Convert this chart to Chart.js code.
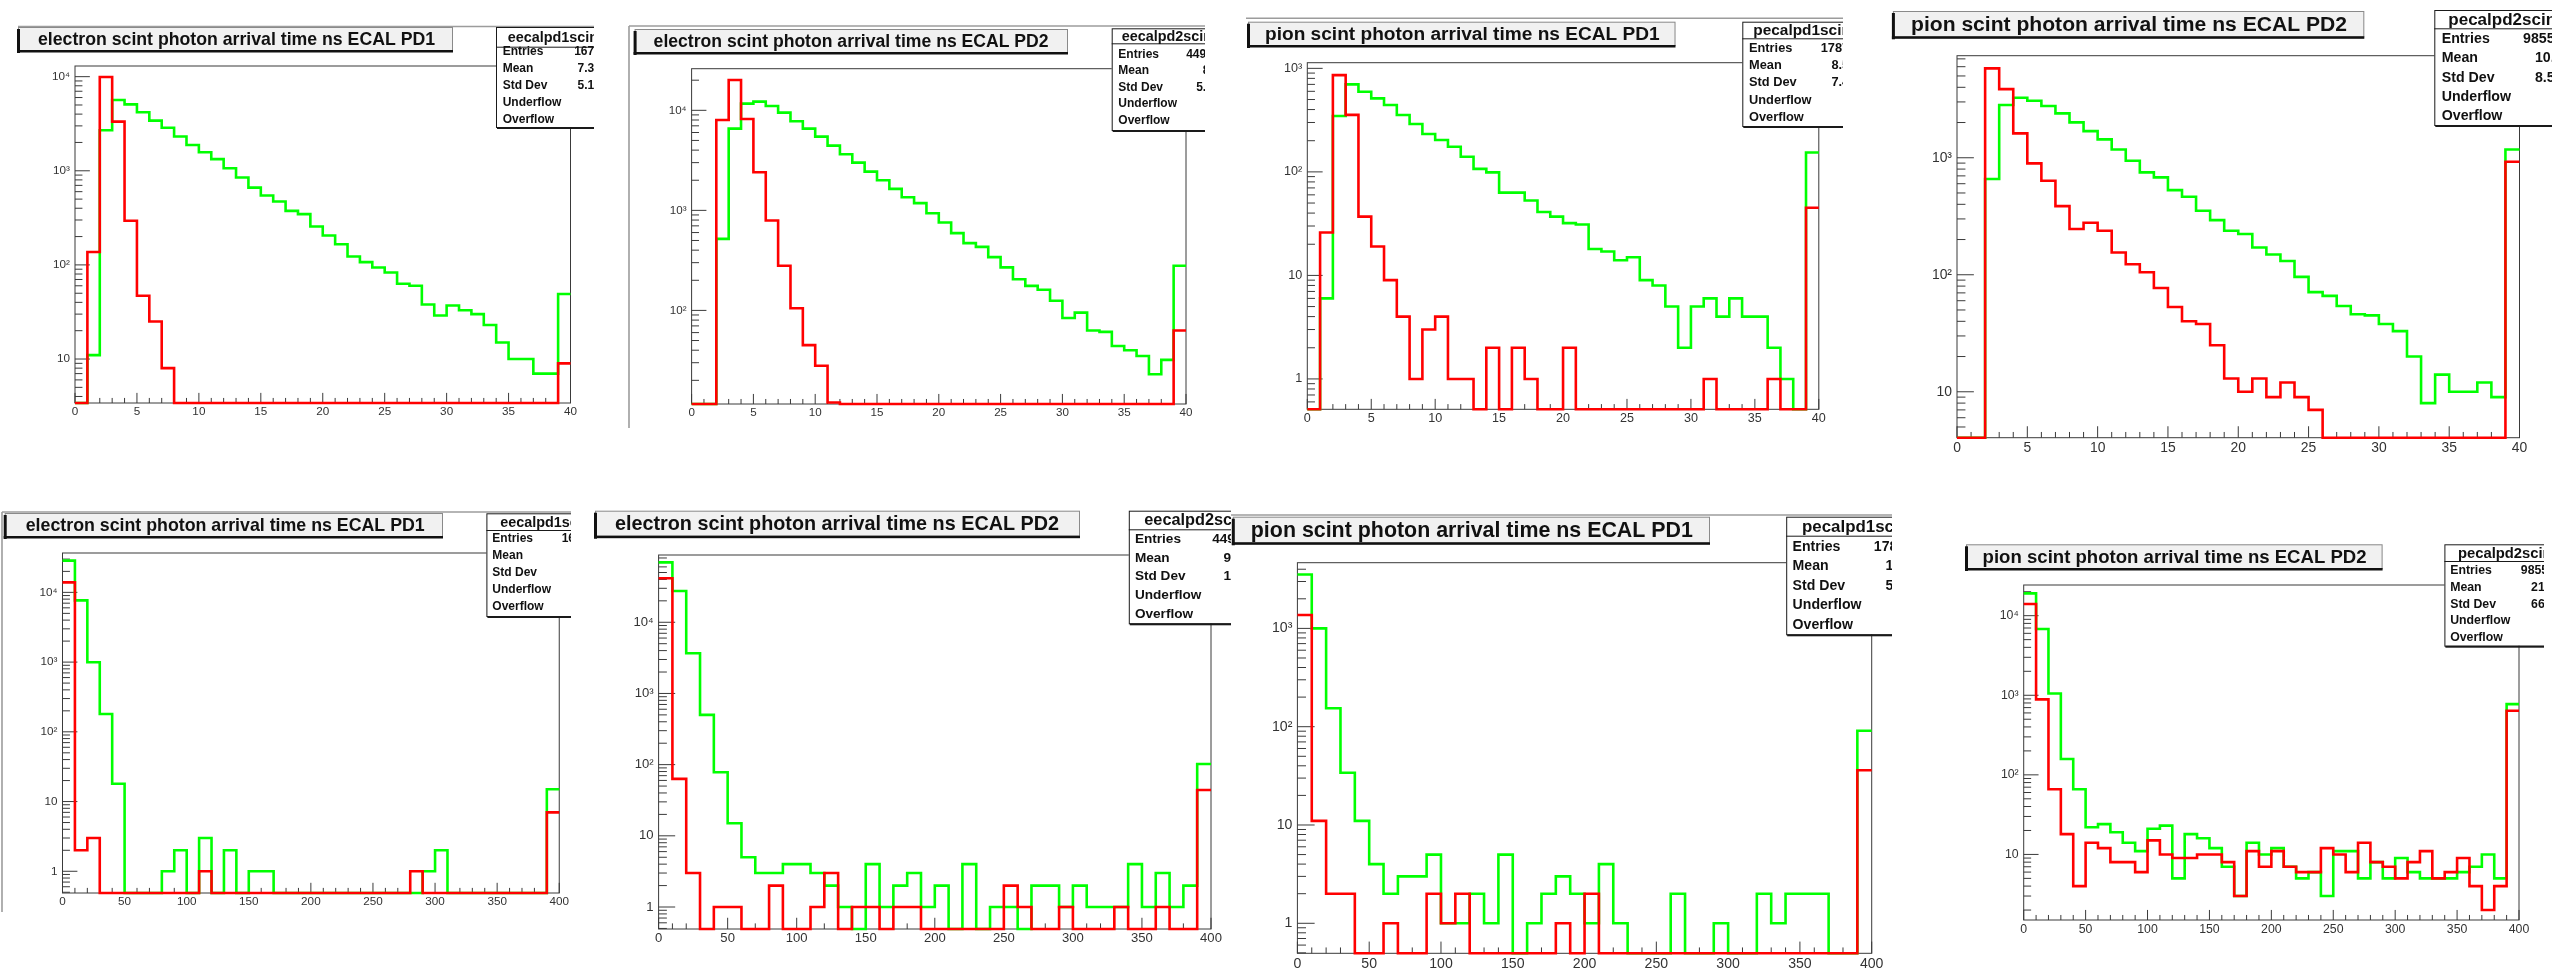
<!DOCTYPE html>
<html>
<head>
<meta charset="utf-8">
<script src="https://cdn.jsdelivr.net/npm/chart.js@4/dist/chart.umd.min.js"></script>
<style>
  html, body { margin: 0; padding: 0; background: #ffffff; }
  body { width: 2552px; height: 971px; position: relative; overflow: hidden; }
  canvas { position: absolute; }
</style>
</head>
<body>
<script>
// ---- bin low edges (40 bins each) and axis tick labels ----
const binEdges40 = [0,1,2,3,4,5,6,7,8,9,10,11,12,13,14,15,16,17,18,19,20,21,22,23,24,25,26,27,28,29,30,31,32,33,34,35,36,37,38,39];
const binEdges400 = [0,10,20,30,40,50,60,70,80,90,100,110,120,130,140,150,160,170,180,190,200,210,220,230,240,250,260,270,280,290,300,310,320,330,340,350,360,370,380,390];
const ticks40 = [0,5,10,15,20,25,30,35,40];
const ticks400 = [0,50,100,150,200,250,300,350,400];
const decadeValues = [1, 10, 100, 1000, 10000];
const decadeLabels = ['1', '10', '10²', '10³', '10⁴'];

// ---- arrival-time counts per bin (0 = empty bin) ----
// electron, ECAL PD1, 0-40 ns
const elePd1ShortGreen = [0,11,2700,5650,5080,4180,3410,2870,2310,1880,1575,1330,1063,847,663,546,471,375,346,256,205,166,123,107,94,83,63,60,38,29,37,33,30,23,15,10,10,7,7,49];
const elePd1ShortRed   = [0,137,9900,3330,294,47,25,8,0,0,0,0,0,0,0,0,0,0,0,0,0,0,0,0,0,0,0,0,0,0,0,0,0,0,0,0,0,0,0,9];
// electron, ECAL PD2, 0-40 ns
const elePd2ShortGreen = [0,0,519,6560,11670,12220,11050,9480,7770,6560,5460,4440,3635,3000,2440,2000,1640,1353,1180,937,757,592,470,432,341,269,205,176,161,125,84,95,63,61,44,40,35,23,32,279];
const elePd2ShortRed   = [0,0,8000,20100,8180,2400,791,279,105,45,28,12,0,0,0,0,0,0,0,0,0,0,0,0,0,0,0,0,0,0,0,0,0,0,0,0,0,0,0,63];
// pion, ECAL PD1, 0-40 ns
const pionPd1ShortGreen = [0,6,346,700,595,513,442,354,290,232,203,175,140,107,99,63,63,53,41,37,32,31,18,17,14,15,9,8,5,2,5,6,4,6,4,4,2,1,0,154];
const pionPd1ShortRed   = [0,26,861,355,37,19,9,4,1,3,4,1,1,0,2,0,2,1,0,0,2,0,0,0,0,0,0,0,0,0,0,1,0,0,0,0,1,0,0,45];
// pion, ECAL PD2, 0-40 ns
const pionPd2ShortGreen = [0,0,658,2820,3260,3070,2765,2395,2005,1690,1435,1178,942,750,679,529,464,352,293,238,223,171,149,131,96,71,66,54,46,45,38,33,20,8,14,10,10,12,9,1178];
const pionPd2ShortRed   = [0,0,5810,3860,1615,895,636,386,246,278,238,155,123,105,77,53,40,38,25,13,10,13,9,12,9,7,0,0,0,0,0,0,0,0,0,0,0,0,0,925];
// electron, ECAL PD1, 0-400 ns
const elePd1LongGreen = [28500,7670,997,180,18,0,0,0,1,2,0,3,0,2,0,1,1,0,0,0,0,0,0,0,0,0,0,0,0,1,2,0,0,0,0,0,0,0,0,15];
const elePd1LongRed   = [13930,2,3,0,0,0,0,0,0,0,0,1,0,0,0,0,0,0,0,0,0,0,0,0,0,0,0,0,1,0,0,0,0,0,0,0,0,0,0,7];
// electron, ECAL PD2, 0-400 ns
const elePd2LongGreen = [69500,27500,3670,500,78,15,5,3,3,4,4,3,2,1,0,4,1,2,3,1,2,0,4,0,1,1,0,2,2,1,2,1,1,1,4,1,3,1,2,102];
const elePd2LongRed   = [41500,63,3,0,1,1,0,0,2,0,0,1,3,0,1,1,0,1,1,0,0,0,0,0,0,2,1,0,0,1,0,0,0,1,0,0,1,0,0,44];
// pion, ECAL PD1, 0-400 ns
const pionPd1LongGreen = [3540,1000,154,34,11,4,2,3,3,5,1,1,2,1,5,0,1,2,3,2,1,4,1,0,0,0,2,0,0,1,0,0,2,1,2,2,2,0,0,91];
const pionPd1LongRed   = [1367,11,2,2,0,0,1,0,0,2,1,2,0,0,0,0,0,0,1,0,2,0,0,0,0,0,0,0,0,0,0,0,0,0,0,0,0,0,0,36];
// pion, ECAL PD2, 0-400 ns
const pionPd2LongGreen = [19050,6790,1054,158,66,22,24,19,14,11,21,23,5,18,16,12,7,3,14,10,12,7,5,6,3,11,11,5,8,5,9,6,5,5,5,6,7,10,5,775];
const pionPd2LongRed   = [14000,887,66,18,4,14,12,8,8,6,15,10,9,9,10,10,8,3,11,7,11,7,6,6,12,10,6,14,8,7,5,8,11,5,6,9,4,2,4,640];

// ---- pave texts ----
const titleElePd1 = 'electron scint photon arrival time ns ECAL PD1';
const titleElePd2 = 'electron scint photon arrival time ns ECAL PD2';
const titlePionPd1 = 'pion scint photon arrival time ns ECAL PD1';
const titlePionPd2 = 'pion scint photon arrival time ns ECAL PD2';
const statRowLabels = ['Entries', 'Mean', 'Std Dev', 'Underflow', 'Overflow'];
const statsElePd1Short  = ['16706', '7.314', '5.176', '0', '0'];
const statsElePd2Short  = ['44956', '8.7', '5.35', '0', '0'];
const statsPionPd1Short = ['17872', '8.53', '7.48', '0', '0'];
const statsPionPd2Short = ['98551', '10.9', '8.51', '0', '0'];
const statsElePd1Long   = ['16706', '18.2', '41.5', '0', '0'];
const statsElePd2Long   = ['44956', '9.62', '15.4', '0', '0'];
const statsPionPd1Long  = ['17872', '16.3', '51.2', '0', '0'];
const statsPionPd2Long  = ['98551', '21.5', '66.3', '0', '0'];

const FONT = '"Liberation Sans", Arial, Helvetica, sans-serif';

// ---- pad layout (page pixels) ----
const panels = [
  { canvas: [0, 0, 594, 450], frame: [75, 66, 570.5, 403], yRange: [3.41, 12980],
    edges: binEdges40, xMax: 40, xTicks: ticks40, green: elePd1ShortGreen, red: elePd1ShortRed,
    title: titleElePd1, tbox: [18, 27, 453, 51], tx: 38, tw: 398, fs: 17.7,
    stats: { name: 'eecalpd1scinttime', vals: statsElePd1Short, L: 496, T: 27, B: 127, sep: 46.7, f: 12, row0: 52, dy: 16.8, lx: 502.7, vr: 607.5, hx: 507.7 },
    lines: [[18, 26.5, 594, 26.5]] },
  { canvas: [620, 0, 585, 450], frame: [691.6, 68.7, 1186, 404], yRange: [11.6, 26060],
    edges: binEdges40, xMax: 40, xTicks: ticks40, green: elePd2ShortGreen, red: elePd2ShortRed,
    title: titleElePd2, tbox: [634.6, 29, 1068, 53], tx: 653.6, tw: 395, fs: 17.6,
    stats: { name: 'eecalpd2scinttime', vals: statsElePd2Short, L: 1111.7, T: 28.3, B: 130, sep: 43.3, f: 12, row0: 54.3, dy: 16.6, lx: 1118.3, vr: 1219.5, hx: 1121.7 },
    lines: [[629, 26, 629, 428], [629, 26, 1205, 26]] },
  { canvas: [1240, 0, 603, 450], frame: [1307.3, 62.7, 1818.8, 409.3], yRange: [0.509, 1134],
    edges: binEdges40, xMax: 40, xTicks: ticks40, green: pionPd1ShortGreen, red: pionPd1ShortRed,
    title: titlePionPd1, tbox: [1248, 21.7, 1675.5, 46], tx: 1265, tw: 395, fs: 19.1,
    stats: { name: 'pecalpd1scinttime', vals: statsPionPd1Short, L: 1742.3, T: 21.7, B: 126, sep: 38.3, f: 12.8, row0: 48.3, dy: 17.25, lx: 1749, vr: 1856.3, hx: 1753.3 },
    lines: [[1246, 18.3, 1843, 18.3]] },
  { canvas: [1880, 0, 672, 470], frame: [1957, 55.7, 2519.5, 437.7], yRange: [4.05, 7450],
    edges: binEdges40, xMax: 40, xTicks: ticks40, green: pionPd2ShortGreen, red: pionPd2ShortRed,
    title: titlePionPd2, tbox: [1892.9, 11, 2364.3, 37.3], tx: 1911, tw: 436, fs: 21.1,
    stats: { name: 'pecalpd2scinttime', vals: statsPionPd2Short, L: 2434.3, T: 10, B: 125, sep: 28.3, f: 14.2, row0: 39.3, dy: 19.2, lx: 2441.7, vr: 2562.5, hx: 2448.3 },
    lines: [] },
  { canvas: [0, 490, 571, 481], frame: [62.5, 553, 560.7, 893], yRange: [0.488, 36700],
    edges: binEdges400, xMax: 400, xTicks: ticks400, green: elePd1LongGreen, red: elePd1LongRed,
    title: titleElePd1, tbox: [4.7, 513, 443, 537], tx: 25.7, tw: 399, fs: 17.8,
    stats: { name: 'eecalpd1scinttime', vals: statsElePd1Long, L: 486.4, T: 513.3, B: 616, sep: 530, f: 12, row0: 539, dy: 16.9, lx: 492.3, vr: 595, hx: 500.2 },
    lines: [[2, 512, 2, 912], [2, 512, 571, 512]] },
  { canvas: [580, 490, 651, 481], frame: [658.6, 555, 1211, 929], yRange: [0.491, 88100],
    edges: binEdges400, xMax: 400, xTicks: ticks400, green: elePd2LongGreen, red: elePd2LongRed,
    title: titleElePd2, tbox: [595, 510.7, 1080, 536.7], tx: 615, tw: 444, fs: 19.8,
    stats: { name: 'eecalpd2scinttime', vals: statsElePd2Long, L: 1128.8, T: 510.7, B: 623.3, sep: 529.3, f: 13.6, row0: 539, dy: 18.75, lx: 1134.9, vr: 1250, hx: 1144.3 },
    lines: [] },
  { canvas: [1231, 490, 661, 481], frame: [1297.4, 562.7, 1871.7, 953.3], yRange: [0.495, 4660],
    edges: binEdges400, xMax: 400, xTicks: ticks400, green: pionPd1LongGreen, red: pionPd1LongRed,
    title: titlePionPd1, tbox: [1232.8, 516.7, 1710, 543.3], tx: 1250.8, tw: 443, fs: 21.4,
    stats: { name: 'pecalpd1scinttime', vals: statsPionPd1Long, L: 1786.2, T: 516.7, B: 634.3, sep: 535.7, f: 14.1, row0: 546.7, dy: 19.6, lx: 1792.6, vr: 1913, hx: 1802 },
    lines: [[1231, 515, 1892, 515]] },
  { canvas: [1950, 490, 594, 481], frame: [2023.7, 585, 2519, 920], yRange: [1.5, 24300],
    edges: binEdges400, xMax: 400, xTicks: ticks400, green: pionPd2LongGreen, red: pionPd2LongRed,
    title: titlePionPd2, tbox: [1966, 544.3, 2382.6, 569], tx: 1982.6, tw: 384, fs: 18.6,
    stats: { name: 'pecalpd2scinttime', vals: statsPionPd2Long, L: 2444.4, T: 544.3, B: 645.7, sep: 561, f: 12.3, row0: 570.7, dy: 16.75, lx: 2450.2, vr: 2555, hx: 2457.9 },
    lines: [] }
];

// Histogram outline: one point per bin low edge plus the closing upper edge.
// Empty bins sit on the frame floor, as on a log-scale histogram.
function histPoints(edges, values, xMax, floor) {
  const pts = edges.map((e, i) => ({ x: e, y: values[i] > 0 ? values[i] : floor }));
  pts.push({ x: xMax, y: pts[pts.length - 1].y });
  return pts;
}

// Frame, inward ticks, title pave, stats pave and pad borders.
const rootPad = {
  id: 'rootPad',
  beforeDatasetsDraw(chart, args, opts) {
    const p = opts.panel;
    const { ctx, chartArea: a } = chart;
    const xs = chart.scales.x, ys = chart.scales.y;
    ctx.save();
    ctx.strokeStyle = '#3a3a3a';
    ctx.lineWidth = 1;
    ctx.strokeRect(a.left, a.top, a.right - a.left, a.bottom - a.top);
    const xLen = 0.03 * (a.bottom - a.top);
    const yLen = 0.03 * (a.right - a.left);
    ctx.beginPath();
    p.edges.concat([p.xMax]).forEach(v => {
      const px = xs.getPixelForValue(v);
      const len = p.xTicks.includes(v) ? xLen : xLen / 2;
      ctx.moveTo(px, a.bottom);
      ctx.lineTo(px, a.bottom - len);
    });
    const lo = p.yRange[0], hi = p.yRange[1];
    for (let k = Math.floor(Math.log10(lo)); k <= Math.ceil(Math.log10(hi)); k++) {
      for (let m = 1; m <= 9; m++) {
        const v = m * Math.pow(10, k);
        if (v < lo || v > hi) continue;
        const py = ys.getPixelForValue(v);
        ctx.moveTo(a.left, py);
        ctx.lineTo(a.left + (m === 1 ? yLen : yLen / 2), py);
      }
    }
    ctx.stroke();
    ctx.restore();
  },
  afterDraw(chart, args, opts) {
    const p = opts.panel;
    const ctx = chart.ctx;
    const ox = p.canvas[0], oy = p.canvas[1];
    ctx.save();

    // pad border
    ctx.strokeStyle = '#9c9c9c';
    ctx.lineWidth = 1.6;
    p.lines.forEach(l => {
      ctx.beginPath();
      ctx.moveTo(l[0] - ox, l[1] - oy);
      ctx.lineTo(l[2] - ox, l[3] - oy);
      ctx.stroke();
    });

    // title pave
    const [tl, tt, tr, tb] = p.tbox.map((v, i) => v - (i % 2 === 0 ? ox : oy));
    ctx.fillStyle = '#f1f1f1';
    ctx.fillRect(tl, tt, tr - tl, tb - tt);
    ctx.strokeStyle = '#8a8a8a';
    ctx.lineWidth = 1;
    ctx.strokeRect(tl + 0.5, tt + 0.5, tr - tl - 1, tb - tt - 1);
    ctx.fillStyle = '#111111';
    ctx.fillRect(tl - 1, tt + 2, 3, tb - tt);
    ctx.fillRect(tl - 1, tb - 1, tr - tl + 1, 2.5);
    ctx.font = 'bold ' + p.fs + 'px ' + FONT;
    ctx.textBaseline = 'middle';
    ctx.textAlign = 'left';
    ctx.fillText(p.title, p.tx - ox, (tt + tb) / 2 + 1, p.tw);

    // stats pave
    const s = p.stats;
    const L = s.L - ox, T = s.T - oy, B = s.B - oy, R = s.vr - ox + 12, sep = s.sep - oy;
    ctx.fillStyle = '#ffffff';
    ctx.fillRect(L, T, R - L, B - T);
    ctx.strokeStyle = '#1a1a1a';
    ctx.lineWidth = 1;
    ctx.strokeRect(L + 0.5, T + 0.5, R - L, B - T);
    ctx.beginPath();
    ctx.moveTo(L, sep + 0.5);
    ctx.lineTo(R, sep + 0.5);
    ctx.stroke();
    ctx.fillStyle = '#1a1a1a';
    ctx.fillRect(L + 1, B, R - L, 2);
    ctx.fillStyle = '#111111';
    ctx.textBaseline = 'middle';
    ctx.textAlign = 'left';
    ctx.font = 'bold ' + (s.f * 1.2).toFixed(1) + 'px ' + FONT;
    ctx.fillText(s.name, s.hx - ox, (T + sep) / 2 + 1);
    ctx.font = 'bold ' + s.f + 'px ' + FONT;
    statRowLabels.forEach((lab, i) => {
      const cy = s.row0 - oy + i * s.dy;
      ctx.textAlign = 'left';
      ctx.fillText(lab, s.lx - ox, cy);
      ctx.textAlign = 'right';
      ctx.fillText(s.vals[i], s.vr - ox, cy);
    });
    ctx.restore();
  }
};

panels.forEach(p => {
  const [cx, cy, cw, ch] = p.canvas;
  const [fl, ft, fr, fb] = p.frame;
  const cv = document.createElement('canvas');
  cv.width = cw;
  cv.height = ch;
  cv.style.left = cx + 'px';
  cv.style.top = cy + 'px';
  document.body.appendChild(cv);

  const floor = p.yRange[0];
  const lf = +(p.fs * 0.66).toFixed(1);

  new Chart(cv, {
    type: 'line',
    data: {
      datasets: [
        { data: histPoints(p.edges, p.red, p.xMax, floor), borderColor: '#ff0000' },
        { data: histPoints(p.edges, p.green, p.xMax, floor), borderColor: '#00ff00' }
      ].map(d => Object.assign(d, {
        stepped: 'before', borderWidth: 2.6, pointRadius: 0, fill: false,
        tension: 0, clip: 4, borderJoinStyle: 'miter', borderCapStyle: 'butt'
      }))
    },
    options: {
      responsive: false,
      animation: false,
      events: [],
      layout: { padding: { left: 0, bottom: 0, top: ft - cy, right: cx + cw - fr } },
      plugins: { legend: { display: false }, tooltip: { enabled: false }, rootPad: { panel: p } },
      scales: {
        x: {
          type: 'linear', min: 0, max: p.xMax,
          grid: { display: false, drawTicks: false }, border: { display: false },
          afterBuildTicks: ax => { ax.ticks = p.xTicks.map(v => ({ value: v })); },
          afterFit: ax => { ax.height = cy + ch - fb; },
          ticks: { autoSkip: false, maxRotation: 0, padding: 2, color: '#333333',
                   font: { family: FONT, size: lf }, callback: v => String(v) }
        },
        y: {
          type: 'logarithmic', min: p.yRange[0], max: p.yRange[1],
          grid: { display: false, drawTicks: false }, border: { display: false },
          afterBuildTicks: ax => {
            ax.ticks = decadeValues.filter(v => v >= p.yRange[0] && v <= p.yRange[1]).map(v => ({ value: v }));
          },
          afterFit: ax => { ax.width = fl - cx; },
          ticks: { autoSkip: false, padding: 5, color: '#333333',
                   font: { family: FONT, size: lf },
                   callback: v => decadeLabels[decadeValues.indexOf(v)] }
        }
      }
    },
    plugins: [rootPad]
  });
});
</script>
</body>
</html>
